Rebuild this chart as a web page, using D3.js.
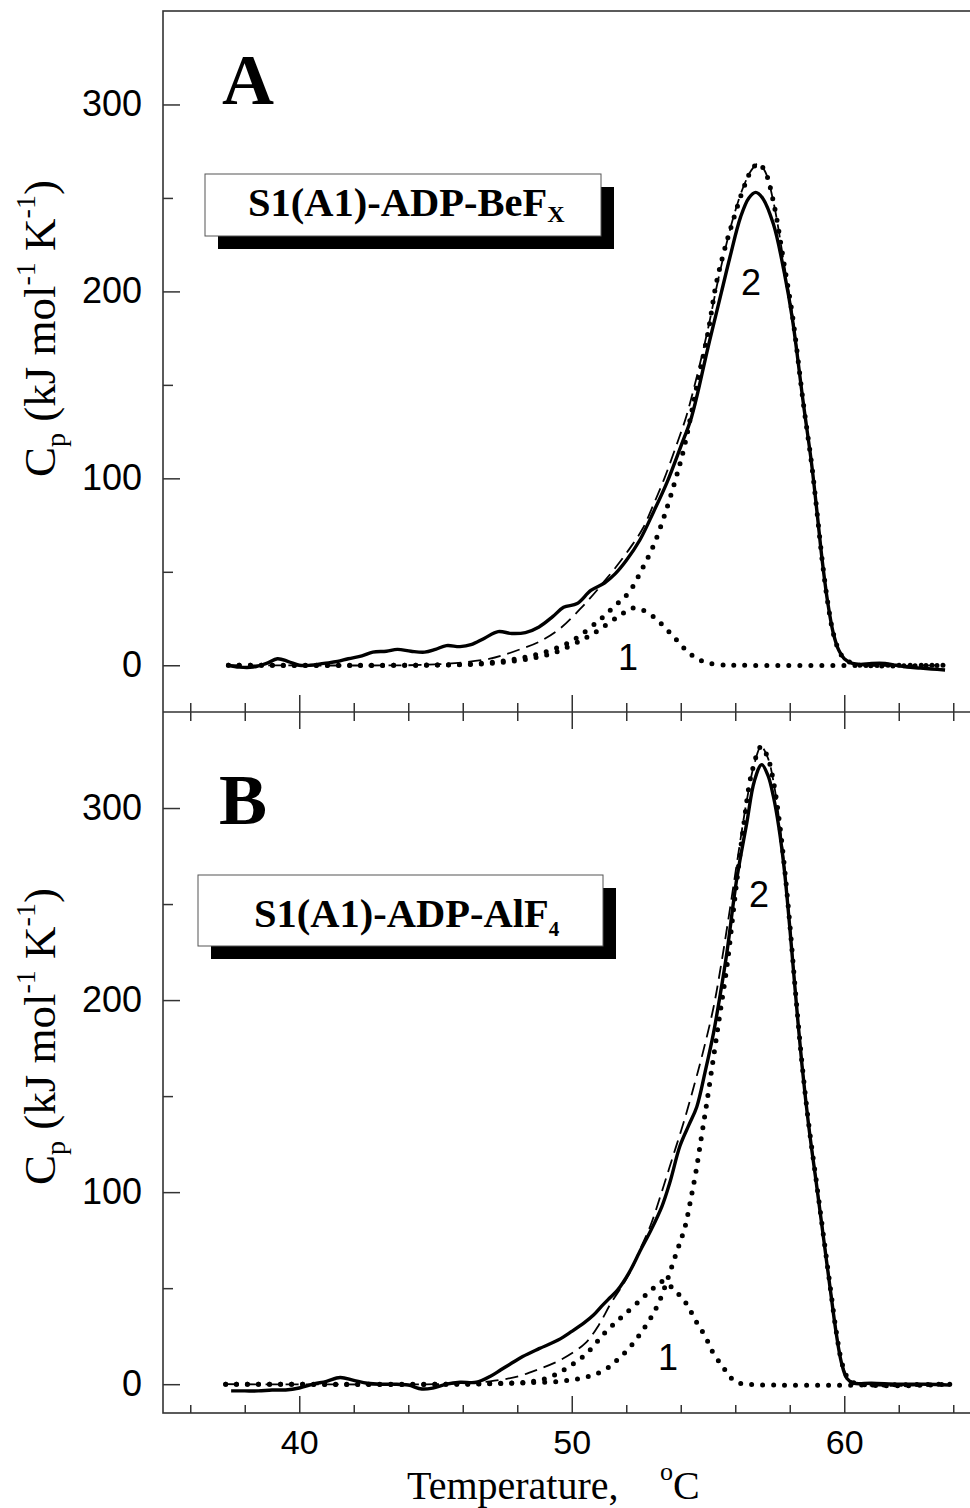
<!DOCTYPE html>
<html lang="en">
<head>
<meta charset="utf-8">
<title>DSC of S1(A1) complexes</title>
<script src="https://cdnjs.cloudflare.com/ajax/libs/d3/7.8.5/d3.min.js"></script>
<style>
  body { margin: 0; background: white; }
  svg { display: block; }
  .tick text { font-family: "Liberation Sans", Arial, sans-serif; font-size: 36px; fill: #000; }
  .xlab .tick text { font-size: 34px; }
  .serif { font-family: "Liberation Serif", "Times New Roman", serif; }
</style>
</head>
<body>
<svg id="chart" width="970" height="1508"></svg>
<script>
// temperature axis (deg C) and Cp ticks
let xMajor = [40, 50, 60]
let xMinor = [36, 38, 42, 44, 46, 48, 52, 54, 56, 58, 62, 64]
let yMajor = [0, 100, 200, 300]
let yMinor = [50, 150, 250]

// panel A: S1(A1)-ADP-BeFx, [T, Cp]
let aSolid = [[37.4,0],[37.8,-1],[38.3,-1],[38.8,1],[39.2,3.5],[39.6,2],[40.0,0],[40.4,0],[40.9,1],[41.4,2],[41.8,3.5],[42.3,5],[42.7,7],[43.2,7.5],[43.6,8.5],[44.1,7.5],[44.6,7],[45.0,8.5],[45.4,10.5],[45.9,10],[46.3,11],[46.8,14.5],[47.3,18],[47.8,17],[48.3,17.5],[48.8,20.5],[49.3,26],[49.7,31],[50.2,33],[50.7,40],[51.2,44],[51.6,49],[52.0,56],[52.5,67],[53.0,82],[53.5,98],[54.0,117],[54.4,133],[55.0,170],[55.5,200],[55.8,218],[56.2,240],[56.5,250],[56.75,253],[57.0,250],[57.4,236],[57.8,210],[58.1,185],[58.5,140],[58.8,108],[59.0,82],[59.2,55],[59.4,33],[59.6,17],[59.8,8],[60.0,3.5],[60.3,1],[60.6,0.5],[61.0,1],[61.5,1],[61.9,0],[62.3,-1],[62.8,-1.5],[63.2,-2],[63.7,-2.5]]
let aDash = [[37.4,0],[44,0],[45,0.5],[46,1.5],[47,3.5],[47.5,5.5],[48.1,8.5],[48.8,12.5],[49.6,20],[50.3,30],[50.8,38],[51.2,45],[51.7,54],[52.2,64],[52.6,73],[53.0,86],[53.4,100],[53.8,116],[54.2,133],[54.6,155],[55.0,180],[55.4,208],[55.9,238],[56.3,256],[56.6,265],[56.85,268.5],[57.1,264],[57.4,248],[57.8,214],[58.1,187],[58.5,140],[58.8,108],[59.0,82],[59.2,55],[59.4,33],[59.6,17],[59.8,8],[60.0,3.5],[60.3,1],[60.6,0],[63.7,0]]
let aPeak1 = [[37.4,0],[44,0],[46,0.3],[47,1],[48,2.5],[48.8,4.5],[49.5,7.5],[50.3,13],[50.8,17],[51.3,22],[51.8,27],[52.2,30.5],[52.6,29.5],[53.0,26],[53.4,20.5],[53.85,13.5],[54.2,8],[54.6,3.5],[55.0,1.2],[55.5,0.2],[56,0],[63.7,0]]
let aPeak2 = [[37.4,0],[44,0],[46,0.5],[47,1.5],[48,3.5],[49,7],[50,13],[51,24],[51.6,32],[52.1,39],[52.6,52],[53.0,64],[53.4,80],[53.8,99],[54.1,115],[54.6,150],[55.0,178],[55.3,204],[55.6,222],[55.9,237],[56.3,255],[56.6,265],[56.85,268.5],[57.1,264],[57.4,248],[57.8,214],[58.1,187],[58.5,140],[58.8,108],[59.0,82],[59.2,55],[59.4,33],[59.6,17],[59.8,8],[60.0,3.5],[60.3,1],[60.6,0],[63.7,0]]

// panel B: S1(A1)-ADP-AlF4
let bSolid = [[37.5,-3.5],[38.0,-3.5],[38.5,-3.5],[39.0,-3],[39.5,-3],[40.0,-2],[40.5,0],[41.0,1.5],[41.5,3.5],[42.0,2],[42.5,0.5],[43.0,0],[43.5,0],[44.0,-0.5],[44.5,-2.5],[44.9,-2],[45.4,0],[45.9,1],[46.5,1],[47.0,4],[47.4,7.5],[47.8,11],[48.2,14.4],[48.8,18.5],[49.5,23],[50.0,27.5],[50.44,31.8],[50.8,36],[51.09,40.5],[51.4,45],[51.68,49],[52.1,58],[52.53,70],[52.9,80],[53.31,92.6],[53.6,105],[53.97,124],[54.3,135],[54.59,144.5],[54.9,163],[55.2,182.7],[55.45,203],[55.69,224.4],[56.05,262.6],[56.42,292],[56.7,314],[56.97,322.6],[57.2,317],[57.4,306],[57.6,290],[57.8,268],[58.0,238],[58.2,205],[58.45,166],[58.7,134],[59.0,102],[59.25,75],[59.5,48],[59.7,27],[59.9,11],[60.1,3],[60.35,0.5],[61,0.5],[62,0],[63,0],[63.9,-0.5]]
let bDash = [[37.3,0],[45,0],[46,0.5],[47,1.5],[48,4],[48.73,7.5],[49.6,12.7],[50.5,21.4],[51.0,31],[51.43,42],[51.8,50],[52.2,60],[52.5,70],[52.9,83],[53.3,100],[53.7,118],[54.1,136],[54.5,156],[54.8,172],[55.2,196],[55.5,220],[55.8,247],[56.1,275],[56.4,302],[56.7,323],[56.95,332],[57.2,326],[57.4,314],[57.6,295],[57.8,270],[58.0,240],[58.2,206],[58.45,167],[58.7,135],[59.0,103],[59.25,76],[59.5,49],[59.7,28],[59.9,12],[60.1,4],[60.4,0.5],[63.9,0]]
let bPeak1 = [[37.3,0],[46,0],[47.5,0.5],[48.6,1.5],[49.25,4],[49.9,9.2],[50.56,16.2],[51.2,26.6],[51.6,32],[52.0,37],[52.66,45.7],[53.0,50],[53.35,53.5],[53.7,50],[54.2,42],[54.55,33],[54.9,24.8],[55.2,16],[55.55,9],[55.8,4],[56.06,1],[56.4,0],[63.9,0]]
let bPeak2 = [[37.3,0],[45,0],[47,0.3],[48.5,0.8],[49.57,1.5],[50.1,2.5],[50.62,4],[51.0,6],[51.4,9.2],[51.7,13],[52.06,18],[52.4,24],[52.7,30],[53.0,37],[53.24,44],[53.5,54],[53.76,65],[54.0,75],[54.16,82],[54.35,95],[54.55,110],[54.75,128],[54.95,146],[55.2,170],[55.45,194],[55.7,218],[56.0,255],[56.3,290],[56.6,318],[56.95,332],[57.2,326],[57.4,314],[57.6,295],[57.8,270],[58.0,240],[58.2,206],[58.45,167],[58.7,135],[59.0,103],[59.25,76],[59.5,49],[59.7,28],[59.9,12],[60.1,4],[60.4,0.5],[63.9,0]]

let svg = d3.select("#chart")
let axisColor = "#333"

let x = d3.scaleLinear().domain([35, 65]).range([163, 980.5])

let panels = [
  {name: "A", y: d3.scaleLinear().domain([-25, 350]).range([712, 11]),
   solid: aSolid, dash: aDash, peaks: [aPeak1, aPeak2],
   letter: [222, 104], box: [205, 174, 396, 62], label: ["S1(A1)-ADP-BeF", "X"], textPos: [248, 216], subSize: 24, subDy: 6,
   num1: [628, 670], num2: [751, 295], titleY: 477},
  {name: "B", y: d3.scaleLinear().domain([-15, 350]).range([1413, 712]),
   solid: bSolid, dash: bDash, peaks: [bPeak1, bPeak2],
   letter: [219, 824], box: [198, 875, 405, 71], label: ["S1(A1)-ADP-AlF", "4"], textPos: [254, 927], subSize: 21, subDy: 9,
   num1: [668, 1370], num2: [759, 907], titleY: 1185}
]

panels.forEach(p => {
  let g = svg.append("g")
  let line = d3.line()
    .x(d => x(d[0]))
    .y(d => p.y(d[1]))
    .curve(d3.curveCatmullRom.alpha(0.5))

  // y ticks inside the frame, labels outside
  g.append("g")
    .attr("transform", `translate(${x(35)},0)`)
    .call(d3.axisRight(p.y).tickValues(yMajor).tickSize(17).tickFormat(""))
    .call(s => s.select(".domain").remove())
  g.append("g")
    .attr("transform", `translate(${x(35)},0)`)
    .call(d3.axisRight(p.y).tickValues(yMinor).tickSize(10).tickFormat(""))
    .call(s => s.select(".domain").remove())
  g.append("g")
    .attr("transform", `translate(${x(35)},0)`)
    .call(d3.axisLeft(p.y).tickValues(yMajor).tickSize(0).tickPadding(21))
    .call(s => s.select(".domain").remove())
  g.selectAll(".tick line").attr("stroke", axisColor).attr("stroke-width", 1.5)

  // curves
  p.peaks.forEach(pk => {
    g.append("path")
      .datum(pk)
      .attr("d", line)
      .attr("fill", "none")
      .attr("stroke", "#000")
      .attr("stroke-width", 5)
      .attr("stroke-linecap", "round")
      .attr("stroke-dasharray", "0 11")
  })
  g.append("path")
    .datum(p.dash)
    .attr("d", line)
    .attr("fill", "none")
    .attr("stroke", "#000")
    .attr("stroke-width", 1.8)
    .attr("stroke-dasharray", "13 7")
  g.append("path")
    .datum(p.solid)
    .attr("d", line)
    .attr("fill", "none")
    .attr("stroke", "#000")
    .attr("stroke-width", 3.4)
    .attr("stroke-linejoin", "round")

  // panel letter
  g.append("text")
    .attr("class", "serif")
    .attr("x", p.letter[0]).attr("y", p.letter[1])
    .attr("font-size", 72).attr("font-weight", "bold")
    .text(p.name)

  // boxed label with shadow
  let [bx, by, bw, bh] = p.box
  g.append("rect")
    .attr("x", bx + 13).attr("y", by + 13).attr("width", bw).attr("height", bh)
    .attr("fill", "#000")
  g.append("rect")
    .attr("x", bx).attr("y", by).attr("width", bw).attr("height", bh)
    .attr("fill", "#fff").attr("stroke", "#555").attr("stroke-width", 1)
  let lt = g.append("text")
    .attr("class", "serif")
    .attr("x", p.textPos[0]).attr("y", p.textPos[1])
    .attr("font-size", 40.5).attr("font-weight", "bold")
  lt.append("tspan").text(p.label[0])
  lt.append("tspan").attr("font-size", p.subSize).attr("dy", p.subDy).text(p.label[1])

  // peak numbers
  g.append("text")
    .attr("x", p.num1[0]).attr("y", p.num1[1])
    .attr("text-anchor", "middle")
    .style("font-family", "'Liberation Sans', Arial, sans-serif").attr("font-size", 36)
    .text("1")
  g.append("text")
    .attr("x", p.num2[0]).attr("y", p.num2[1])
    .attr("text-anchor", "middle")
    .style("font-family", "'Liberation Sans', Arial, sans-serif").attr("font-size", 36)
    .text("2")

  // y title
  let yt = g.append("text")
    .attr("class", "serif")
    .attr("transform", `translate(55,${p.titleY}) rotate(-90)`)
    .attr("font-size", 45)
  yt.append("tspan").text("C")
  yt.append("tspan").attr("font-size", 28).attr("dy", 10).text("p")
  yt.append("tspan").attr("dy", -10).text(" (kJ mol")
  yt.append("tspan").attr("font-size", 28).attr("dy", -20).text("-1")
  yt.append("tspan").attr("dy", 20).text(" K")
  yt.append("tspan").attr("font-size", 28).attr("dy", -20).text("-1")
  yt.append("tspan").attr("dy", 20).text(")")
})

// shared middle axis: ticks cross the line
let yMid = 712
svg.append("g")
  .attr("transform", `translate(0,${yMid - 17})`)
  .call(d3.axisBottom(x).tickValues(xMajor).tickSize(34).tickFormat(""))
  .call(s => s.select(".domain").remove())
svg.append("g")
  .attr("transform", `translate(0,${yMid - 9})`)
  .call(d3.axisBottom(x).tickValues(xMinor).tickSize(18).tickFormat(""))
  .call(s => s.select(".domain").remove())

// bottom axis: ticks point up
let yBot = 1413
svg.append("g")
  .attr("transform", `translate(0,${yBot})`)
  .call(d3.axisTop(x).tickValues(xMajor).tickSize(17).tickFormat(""))
  .call(s => s.select(".domain").remove())
svg.append("g")
  .attr("transform", `translate(0,${yBot})`)
  .call(d3.axisTop(x).tickValues(xMinor).tickSize(8).tickFormat(""))
  .call(s => s.select(".domain").remove())
svg.append("g")
  .attr("class", "xlab")
  .attr("transform", `translate(0,${yBot})`)
  .call(d3.axisBottom(x).tickValues(xMajor).tickSize(0).tickPadding(17))
  .call(s => s.select(".domain").remove())
svg.selectAll(".tick line").attr("stroke", axisColor).attr("stroke-width", 1.5)

// frame
svg.append("rect")
  .attr("x", x(35)).attr("y", 11)
  .attr("width", x(65) - x(35)).attr("height", yBot - 11)
  .attr("fill", "none").attr("stroke", axisColor).attr("stroke-width", 1.6)
svg.append("line")
  .attr("x1", x(35)).attr("x2", x(65))
  .attr("y1", yMid).attr("y2", yMid)
  .attr("stroke", axisColor).attr("stroke-width", 1.6)

// x title
let xt = svg.append("text")
  .attr("class", "serif")
  .attr("x", 407).attr("y", 1499)
  .attr("font-size", 40)
xt.append("tspan").text("Temperature,")
xt.append("tspan").attr("x", 660).attr("dy", -19).attr("font-size", 26).text("o")
xt.append("tspan").attr("dy", 19).text("C")
</script>
</body>
</html>
